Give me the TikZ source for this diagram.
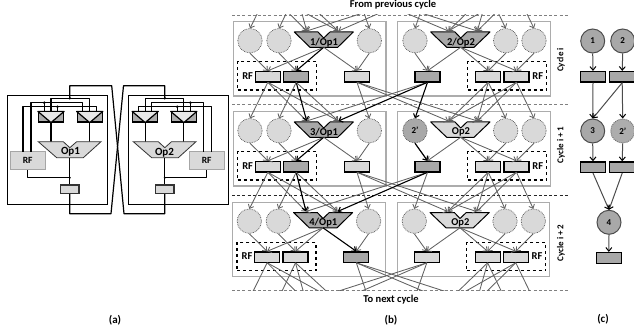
\documentclass[tikz,border=0pt]{standalone}
\usepackage{fontspec}
\setmainfont{Carlito}
\usetikzlibrary{arrows.meta,calc}
\definecolor{lg}{gray}{.85}
\definecolor{mg}{gray}{.66}
\definecolor{ed}{gray}{.38}
\tikzset{
  wire/.style={draw=black,line width=1.2pt,line join=round},
  boxa/.style={draw=black,line width=1.3pt},
  muxbox/.style={draw=black,line width=1.2pt,fill=lg!80!black,minimum width=25pt,minimum height=10pt,inner sep=0pt},
  rfa/.style={draw=gray!70,line width=.8pt,fill=lg,minimum width=35pt,minimum height=18pt,inner sep=0pt,font=\bfseries\fontsize{9.5}{9.5}\selectfont},
  rega/.style={draw=black!80,line width=1.2pt,fill=lg,minimum width=18.5pt,minimum height=8.6pt,inner sep=0pt},
  aluA/.style={draw=black!80,line width=.8pt,fill=lg},
  cellbox/.style={draw=gray!65,line width=1.2pt,minimum width=152.7pt,minimum height=74.3pt,inner sep=0pt},
  cell/.style={circle,draw=black!70,densely dotted,line width=.7pt,fill=lg,minimum size=24.4pt,inner sep=0pt},
  celld/.style={cell,fill=mg,font=\bfseries\fontsize{9}{9}\selectfont},
  regl/.style={draw=black,line width=1.2pt,fill=lg,minimum width=25pt,minimum height=10.6pt,inner sep=0pt},
  regd/.style={regl,fill=mg},
  alul/.style={draw=black,line width=1pt,fill=lg,line join=round},
  alud/.style={draw=black,line width=1pt,fill=mg,line join=round},
  rfbox/.style={draw=black,dashed,line width=1.3pt,minimum width=79pt,minimum height=28.3pt,inner sep=0pt},
  lab/.style={font=\bfseries\fontsize{10.5}{10.5}\selectfont,inner sep=0pt},
  alab/.style={font=\bfseries\fontsize{10.5}{10.5}\selectfont,inner sep=0pt},
  link/.style={draw=ed,line width=.85pt,-{Straight Barb[length=3.4pt,width=6pt]}},
  hot/.style={draw=black,line width=1.1pt},
  dline/.style={draw=gray,line width=.9pt,dash pattern=on 3pt off 2.2pt},
  dlineb/.style={dline,draw=black!85},
  cyc/.style={rotate=90,font=\bfseries\fontsize{9}{9}\selectfont,inner sep=0pt},
  capt/.style={font=\bfseries\fontsize{11}{11}\selectfont,inner sep=0pt},
  ccirc/.style={circle,draw=black!70,line width=1pt,fill=mg,minimum size=24pt,inner sep=0pt,font=\bfseries\fontsize{9}{9}\selectfont},
  ccircd/.style={ccirc,densely dotted,draw=black!55,fill=lg!80!black},
  clink/.style={draw=black!70,line width=1pt,-{Straight Barb[length=3.6pt,width=6pt,color=black]}},
  hiiR2aL/.style={hot},hiiR0c0/.style={hot},hiiR0aR/.style={hot},
  hijR2aL/.style={hot},hijR0aR/.style={hot},
}
\newcommand{\MuxV}[1]{\draw[line width=1.2pt,fill=lg!60!white,line join=round] (#1.north west) -- (#1.south) -- (#1.north east) -- cycle;}
\newcommand{\Ports}[3]{%
  \begin{scope}[shift={(#2,#3)}]
  \coordinate (#1R1s) at (267.85,82.3); \coordinate (#1R2s) at (296.2,82.3); \coordinate (#1R3s) at (357,82.3);
  \coordinate (#1R0s) at (427.5,82.3); \coordinate (#1R4s) at (488.3,82.3); \coordinate (#1R5s) at (516.5,82.3);
  \coordinate (#1c1t) at (250,28.4); \coordinate (#1c2t) at (279,28.4); \coordinate (#1aLt) at (306.7,31);
  \coordinate (#1aRt) at (338.3,31); \coordinate (#1c4t) at (369.3,28.4); \coordinate (#1c0t) at (415,28.4);
  \coordinate (#1bLt) at (448.3,31); \coordinate (#1bRt) at (477.3,31); \coordinate (#1c3t) at (505.7,28.4);
  \coordinate (#1c5t) at (534,28.4);
  \end{scope}}
% name, dx, dy, alu style, label, R1, R2, R3
\newcommand{\LeftCell}[8]{%
  \begin{scope}[shift={(#2,#3)}]
  \node[cellbox] (#1boxL) at (309.65,58.85) {};
  \node[rfbox] (#1rfL) at (277.2,75.85) {};
  \node[lab] (#1rfLt) at (247.7,76) {RF};
  \node[cell] (#1c1) at (250,40.7) {};
  \node[cell] (#1c2) at (279,40.7) {};
  \node[cell] (#1c4) at (369.3,40.7) {};
  \draw[#4] (294.3,32) -- (318,32) -- (323.7,38) -- (330,32) -- (353.3,32) -- (337.7,47.3) -- (310,47.3) -- cycle;
  \coordinate (#1aO) at (323.7,47.3);
  \node[alab] (#1aT) at (324,42.3) {#5};
  \node[#6] (#1R1) at (267.85,76.7) {};
  \node[#7] (#1R2) at (296.2,76.7) {};
  \node[#8] (#1R3) at (357,76.7) {};
  \end{scope}}
\newcommand{\RightCell}[9]{%
  \begin{scope}[shift={(#2,#3)}]
  \node[cellbox] (#1boxR) at (474.2,58.85) {};
  \node[rfbox] (#1rfR) at (507,75.85) {};
  \node[lab] (#1rfRt) at (537.7,76) {RF};
  \node[#6] (#1c0) at (415,40.7) {#7};
  \node[cell] (#1c3) at (505.7,40.7) {};
  \node[cell] (#1c5) at (534,40.7) {};
  \draw[#4] (430.7,32) -- (455,32) -- (460.7,38) -- (467,32) -- (490,32) -- (474,47.3) -- (446.7,47.3) -- cycle;
  \coordinate (#1bO) at (460.7,47.3);
  \node[alab] (#1bT) at (461,42.3) {#5};
  \node[#8] (#1R0) at (427.5,76.7) {};
  \node[regl] (#1R4) at (488.3,76.7) {};
  \node[regl] (#1R5) at (516.5,76.7) {};
  \draw[link] (#1c0.south) -- (#1R0.north);
  \draw[link] (#1bO) -- (#1R0.north);
  \draw[link] (#1bO) -- (#1R4.north);
  \draw[link] (#1bO) -- (#1R5.north);
  \draw[link] (#1c3.south) -- (#1R4.north);
  \draw[link] (#1c5.south) -- (#1R5.north);
  #9
  \end{scope}}
\newcommand{\InnerL}[4]{%
  \draw[link] (#1c1.south) -- (#1R1.north);
  \draw[link] (#1c2.south) -- (#1R2.north);
  \draw[link] (#1c4.south) -- (#1R3.north);
  \draw[link] (#1aO) -- (#1R1.north);
  \draw[link,#2] (#1aO) -- (#1R2.north);
  \draw[link,#3] (#1aO) -- (#1R3.north);}
\newcommand{\Links}[2]{%
  \foreach \src/\dst in {R1/c1,R1/aL,R1/aR,R2/c2,R2/aL,R2/aR,R3/c4,R3/bL,R3/bR,R0/c0,R0/aL,R0/aR,R4/c3,R4/bL,R4/bR,R5/c5,R5/bL,R5/bR}{%
    \draw[link,hi#1\src\dst/.try] (#1\src s) -- (#2\dst t);}}
\begin{document}
\begin{tikzpicture}[x=1pt,y=-1pt]
\useasboundingbox (0,0) rectangle (634,334);
% ---------- (a)
\draw[boxa] (7.5,95.5) rectangle (107.5,204.5);
\draw[boxa] (128.5,95.5) rectangle (228.5,204.5);
\node[muxbox] (muxLa) at (51,117) {};
\node[muxbox] (muxLb) at (89.7,117) {};
\node[muxbox] (muxRa) at (145.2,117) {};
\node[muxbox] (muxRb) at (183.8,117) {};
\node[rfa] (rfL) at (27.7,160.7) {RF};
\node[rfa] (rfR) at (206.7,160.7) {RF};
\node[rega] (regL) at (69.8,189.2) {};
\node[rega] (regR) at (164.8,189.2) {};
\coordinate (jL) at (69.8,98.3);
\coordinate (jR) at (164.8,98.3);
\coordinate (xa) at (111.7,85.7);
\coordinate (xb) at (124,213.7);
\coordinate (xc) at (123.5,85.7);
\coordinate (xd) at (111,213.7);
\coordinate (b1) at (44.3,102.7);
\coordinate (b2) at (57.5,106.7);
\coordinate (b3) at (190.4,102.7);
\coordinate (b4) at (177.2,106.7);
\coordinate (kL) at (69.8,177.7);
\coordinate (kR) at (164.8,177.7);
\coordinate (opTL) at (0,141.7);
\draw[wire] (muxLa.north) |- (jL) -| (muxLb.north);
\draw[wire] (muxRa.north) |- (jR) -| (muxRb.north);
\draw[wire] (jL) |- (xa) -- (xb) -| (regR.south);
\draw[wire] (jR) |- (xc) -- (xd) -| (regL.south);
\coordinate (rL1) at (31,151.7); \coordinate (rL2) at (23,151.7);
\coordinate (rR1) at (203.3,151.7); \coordinate (rR2) at (211.7,151.7);
\coordinate (mL2a) at (82.7,112); \coordinate (mL2b) at (96.4,112);
\coordinate (mR1a) at (151.7,112); \coordinate (mR1b) at (138.7,112);
\draw[wire] (rL1) |- (mL2a |- b1) -- (mL2a);
\draw[wire] (rL2) |- (mL2b |- b2) -- (mL2b);
\draw[wire] (rR1) |- (mR1a |- b3) -- (mR1a);
\draw[wire] (rR2) |- (mR1b |- b4) -- (mR1b);
\foreach \j/\m in {b1/muxLa,b2/muxLa,b3/muxRb,b4/muxRb}{%
  \fill (\j) circle (1.4pt);
  \draw[wire] (\j) -- (\j |- \m.north);}
\fill (jL) circle (1.3pt); \fill (jR) circle (1.3pt);
\draw[wire] (muxLa.south) -- (muxLa.south |- opTL);
\draw[wire] (muxLb.south) -- (muxLb.south |- opTL);
\draw[wire] (muxRa.south) -- (muxRa.south |- opTL);
\draw[wire] (muxRb.south) -- (muxRb.south |- opTL);
\draw[aluA] (38.3,141.7) -- (63.3,141.7) -- (69.8,147.7) -- (76.7,141.7) -- (101,141.7) -- (83.3,157.7) -- (56.7,157.7) -- cycle;
\draw[aluA] (133.3,141.7) -- (158.3,141.7) -- (164.8,147.7) -- (171.5,141.7) -- (196,141.7) -- (178.3,157.7) -- (151.7,157.7) -- cycle;
\node[alab,font=\bfseries\fontsize{11}{11}\selectfont] (op1) at (70.5,152) {Op1};
\node[alab,font=\bfseries\fontsize{11}{11}\selectfont] (op2) at (164.5,152.5) {Op2};
\coordinate (opBL) at (0,157.7);
\draw[wire] (regL.north) -- (regL.north |- opBL);
\draw[wire] (regR.north) -- (regR.north |- opBL);
\draw[wire] (rfL.south) |- (kL);
\draw[wire] (rfR.south) |- (kR);
\fill (kL) circle (1.1pt); \fill (kR) circle (1.1pt);
\MuxV{muxLa}\MuxV{muxLb}\MuxV{muxRa}\MuxV{muxRb}
\node[capt] (capa) at (115,320) {(a)};
% ---------- (b)
\node[lab] (from) at (393,5) {From previous cycle};
\node[lab] (tonext) at (391,299.5) {To next cycle};
\node[capt] (capb) at (391,320) {(b)};
\coordinate (d1a) at (232,15); \coordinate (d1b) at (568,15);
\coordinate (d2a) at (232,104.7); \coordinate (d2b) at (568,104.7);
\coordinate (d3a) at (232,195.5); \coordinate (d3b) at (568,195.5);
\coordinate (d4a) at (232,290); \coordinate (d4b) at (568,290);
\draw[dline] (d1a) -- (d1b);
\draw[dline] (d2a) -- (d2b);
\draw[dlineb] (d3a) -- (d3b);
\draw[dline] (d4a) -- (d4b);
\node[cyc] (cy1) at (561,60) {Cycle i};
\node[cyc] (cy2) at (561,145) {Cycle i + 1};
\node[cyc] (cy3) at (561,243) {Cycle i + 2};
\Ports{p}{0}{-90}\Ports{i}{0}{0}\Ports{j}{0}{90}\Ports{k}{-.7}{180.5}\Ports{n}{-.7}{270.5}
\LeftCell{i}{0}{0}{alud}{1/Op1}{regl}{regd}{regl}
\InnerL{i}{hot}{}{}
\RightCell{i}{0}{0}{alud}{2/Op2}{cell}{}{regd}{}
\LeftCell{j}{0}{90}{alud}{3/Op1}{regl}{regd}{regl}
\InnerL{j}{hot}{}{}
\RightCell{j}{0}{90}{alul}{Op2}{celld}{2'}{regd}{\draw[link,hot] (jc0.south) -- (jR0.north);}
\LeftCell{k}{-.7}{180.5}{alud}{4/Op1}{regl}{regl}{regd}
\InnerL{k}{}{hot}{}
\RightCell{k}{-.7}{180.5}{alul}{Op2}{cell}{}{regl}{}
\begin{scope}
\clip (225,15) rectangle (560,290);
\Links{p}{i}\Links{i}{j}\Links{j}{k}\Links{k}{n}
\end{scope}
% ---------- (c)
\node[ccirc] (n1) at (592.7,41) {1};
\node[ccirc] (n2) at (622.7,41) {2};
\node[regd] (q1) at (593,76.8) {};
\node[regd] (q2) at (622.2,76.8) {};
\node[ccirc] (n3) at (592.7,131) {3};
\node[ccircd] (n2p) at (622.7,131) {2'};
\node[regd] (q3) at (593,167.2) {};
\node[regd] (q4) at (622.2,167.2) {};
\node[ccirc] (n4) at (609,222.3) {4};
\node[regd] (q5) at (608.8,257.8) {};
\foreach \a/\b in {n1.south/q1.north,n2.south/q2.north,q1.south/n3.north,q2.south/n3.north,q2.south/n2p.north,n3.south/q3.north,n2p.south/q4.north,q3.south/n4.north,q4.south/n4.north,n4.south/q5.north}{%
  \draw[clink] (\a) -- (\b);}
\node[capt] (capc) at (603,319) {(c)};
\end{tikzpicture}
\end{document}
